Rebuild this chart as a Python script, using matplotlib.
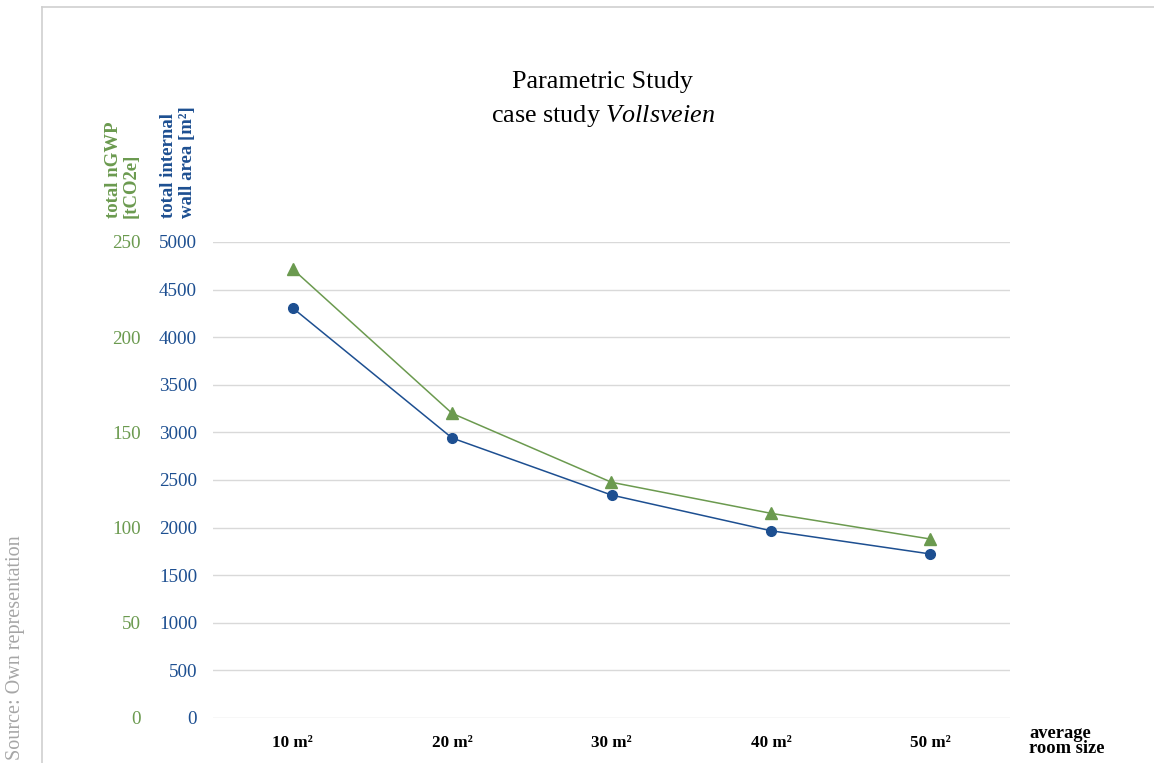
import matplotlib.pyplot as plt
from matplotlib.lines import Line2D

plt.rcParams['font.family'] = ['Liberation Serif', 'DejaVu Serif']
plt.rcParams['mathtext.fontset'] = 'custom'
plt.rcParams['mathtext.rm'] = 'Liberation Serif'
plt.rcParams['mathtext.it'] = 'Liberation Serif:italic'

# data
rooms = ['10 m²', '20 m²', '30 m²', '40 m²', '50 m²']
wall_area = [4307, 2941, 2342, 1967, 1723]      # total internal wall area [m²]
ngwp = [235.8, 160.0, 123.8, 107.5, 94.0]       # total nGWP [tCO2e]
area_ticks = [0, 500, 1000, 1500, 2000, 2500, 3000, 3500, 4000, 4500, 5000]
gwp_ticks = [0, 50, 100, 150, 200, 250]

green = '#6b9a4f'
blue = '#1d4f91'
W, H = 1154, 763

fig = plt.figure(figsize=(W / 100, H / 100), dpi=100)
ax = fig.add_axes([213 / W, 1 - 718 / H, (1010 - 213) / W, (718 - 242) / H])
x = range(len(rooms))

ax.plot(x, wall_area, color=blue, lw=1.1, marker='o', ms=7, zorder=3)
ax.set_ylim(0, 5000)
ax.set_xlim(-0.5, len(rooms) - 0.5)
ax.set_yticks(area_ticks)
ax.set_xticks(list(x))
ax.set_xticklabels(rooms, fontweight='bold', fontsize=12.3)
ax.tick_params(axis='y', length=0, pad=11.5, labelcolor=blue, labelsize=13.8)
ax.tick_params(axis='x', length=0, pad=12)
ax.grid(axis='y', color='#d9d9d9', lw=1)
ax.set_axisbelow(True)
for s in ax.spines.values():
    s.set_visible(False)

ax2 = ax.twinx()
ax2.plot(x, ngwp, color=green, lw=1.1, marker='^', ms=8, zorder=3)
ax2.set_ylim(0, 250)
ax2.set_yticks(gwp_ticks)
ax2.yaxis.tick_left()
ax2.tick_params(axis='y', length=0, pad=52, labelcolor=green, labelsize=13.8)
for s in ax2.spines.values():
    s.set_visible(False)

# axis titles
fig.text(122 / W, 1 - 218 / H, 'total nGWP\n[tCO2e]', rotation=90, color=green,
         fontweight='bold', fontsize=13.5, ha='center', va='bottom',
         multialignment='left', linespacing=1.05)
fig.text(178 / W, 1 - 218 / H, 'total internal\nwall area [m²]', rotation=90, color=blue,
         fontweight='bold', fontsize=13.5, ha='center', va='bottom',
         multialignment='left', linespacing=1.1)
fig.text(1029 / W, 1 - 741 / H, 'average\nroom size', fontweight='bold', fontsize=13.3,
         ha='left', va='center', linespacing=0.9)

# title
fig.text(602 / W, 1 - 82 / H, 'Parametric Study', fontsize=18.8, ha='center', va='center')
fig.text(603 / W, 1 - 116 / H, 'case study $Vollsveien$', fontsize=18.8,
         ha='center', va='center')

# source note and frame
fig.text(16 / W, 1 - 760 / H, 'Source: Own representation', rotation=90, color='#a6a6a6',
         fontsize=14.5, ha='center', va='bottom')
fig.add_artist(Line2D([42 / W, 42 / W], [0, 1 - 7 / H], color='#cfcfcf', lw=1.2))
fig.add_artist(Line2D([42 / W, 1], [1 - 7 / H, 1 - 7 / H], color='#cfcfcf', lw=1.2))

fig.savefig('out.png', dpi=100)
